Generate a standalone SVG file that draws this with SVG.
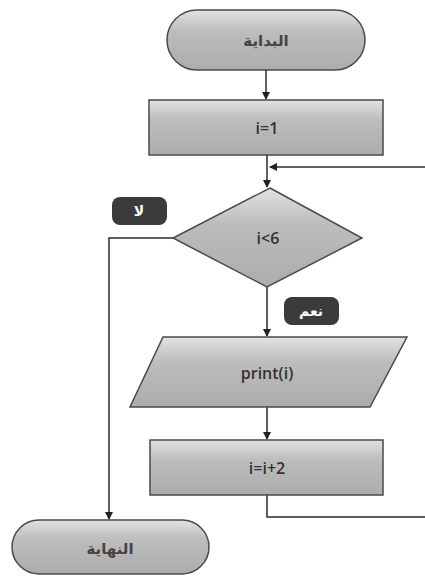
<svg xmlns="http://www.w3.org/2000/svg" width="425" height="576" viewBox="0 0 425 576">
<defs>
<linearGradient id="g" x1="0" y1="0" x2="0" y2="1">
<stop offset="0" stop-color="#e2e2e2"/>
<stop offset="0.35" stop-color="#bdbdbd"/>
<stop offset="1" stop-color="#acacac"/>
</linearGradient>
<marker id="arr" markerWidth="8" markerHeight="8" refX="7" refY="4" orient="auto" markerUnits="userSpaceOnUse">
<path d="M0,0 L8,4 L0,8 Z" fill="#222"/>
</marker>
</defs>
<style>
.shape{fill:url(#g);stroke:#4a4a4a;stroke-width:1.5}
.t{font-family:"Open Sans","DejaVu Sans",sans-serif;font-size:16px;font-weight:600;fill:#333;text-anchor:middle;dominant-baseline:central}
.ar{font-family:"DejaVu Sans",sans-serif;font-size:15px;font-weight:bold;fill:#444;text-anchor:middle;dominant-baseline:central}
.lbl{fill:#3b3b3b}
.lt{font-family:"DejaVu Sans",sans-serif;font-size:14px;font-weight:bold;fill:#fff;text-anchor:middle;dominant-baseline:central}
.c{fill:none;stroke:#2a2a2a;stroke-width:1.5}
</style>
<rect width="425" height="576" fill="#fff"/>
<g id="connectors">
<path class="c" d="M266,70 V99" marker-end="url(#arr)"/>
<path class="c" d="M267,155 V187" marker-end="url(#arr)"/>
<path class="c" d="M425,167 H270" marker-end="url(#arr)"/>
<path class="c" d="M267,287 V336" marker-end="url(#arr)"/>
<path class="c" d="M267,407 V439" marker-end="url(#arr)"/>
<path class="c" d="M267,495 V517 H425"/>
<path class="c" d="M173,238 H109 V519" marker-end="url(#arr)"/>
</g>
<g id="start">
<rect class="shape" x="167" y="10" width="198" height="60" rx="30"/>
<text class="ar" x="266" y="41">البداية</text>
</g>
<g id="init">
<rect class="shape" x="149" y="100" width="234" height="55"/>
<text class="t" x="267" y="128">i=1</text>
</g>
<g id="decision">
<polygon class="shape" points="270,188 362,238 267,287 173,238"/>
<text class="t" x="268" y="238">i&lt;6</text>
</g>
<g id="no-label">
<rect class="lbl" x="112" y="197" width="55" height="28" rx="8"/>
<text class="lt" x="139" y="211">لا</text>
</g>
<g id="yes-label">
<rect class="lbl" x="284" y="297" width="55" height="28" rx="8"/>
<text class="lt" x="311" y="311">نعم</text>
</g>
<g id="print">
<polygon class="shape" points="163,337 407,337 370,407 130,407"/>
<text class="t" x="267" y="373">print(i)</text>
</g>
<g id="increment">
<rect class="shape" x="150" y="440" width="233" height="55"/>
<text class="t" x="267" y="468">i=i+2</text>
</g>
<g id="end">
<rect class="shape" x="12" y="520" width="197" height="54" rx="27"/>
<text class="ar" x="110" y="549">النهاية</text>
</g>
</svg>
